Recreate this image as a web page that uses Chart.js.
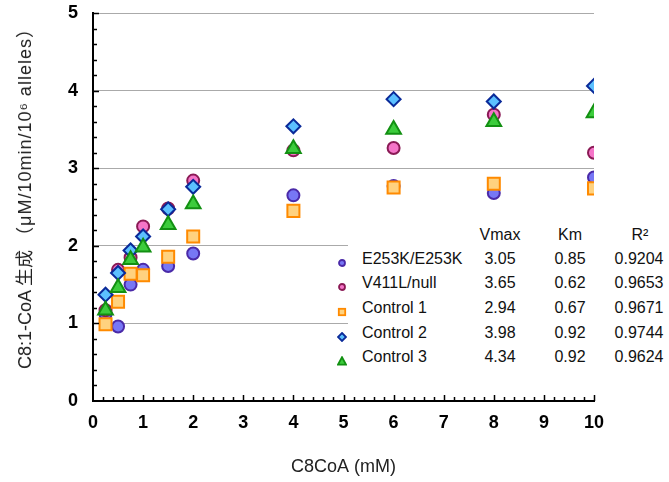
<!DOCTYPE html>
<html>
<head>
<meta charset="utf-8">
<script src="https://cdn.jsdelivr.net/npm/chart.js@4.4.1/dist/chart.umd.min.js"></script>
<style>
  body { margin: 0; background: #fff; }
  #wrap { position: relative; width: 669px; height: 482px; font-family: "Liberation Sans", Arial, "Noto Sans CJK JP", sans-serif; }
  #tabla { position: absolute; left: 348px; top: 218px; width: 321px; height: 160px; background: #fff; }
  #tituloY { position: absolute; left: 25px; top: 194px; transform: translate(-50%, -50%) rotate(-90deg); font-size: 18px; color: #222; white-space: nowrap; line-height: 1; }
  #tituloY .ancho { letter-spacing: 1px; }
  .t { position: absolute; font-size: 16px; color: #111; white-space: nowrap; line-height: 1; }
  .c { transform: translate(-50%, -50%); }
  .l { transform: translate(0, -50%); }
  .m { position: absolute; width: 10px; height: 10px; transform: translate(-50%, -50%); }
</style>
</head>
<body>
<div id="wrap">
  <canvas id="misPuntos" width="669" height="482"></canvas>
  <div id="tabla"></div>
  <div id="tituloY">C8:1-CoA 生成 <span class="ancho">（μM/10min/10⁶ alleles）</span></div>
</div>
<script>
const CONCENTRACION = [0.25, 0.5, 0.75, 1, 1.5, 2, 4, 6, 8, 10];
const E253K = [1.12, 0.96, 1.50, 1.69, 1.74, 1.90, 2.65, 2.77, 2.68, 2.88];
const V411L = [1.17, 1.69, 1.85, 2.25, 2.48, 2.84, 3.23, 3.26, 3.69, 3.20];
const CONTROL1 = [0.99, 1.28, 1.64, 1.62, 1.86, 2.12, 2.45, 2.75, 2.80, 2.74];
const CONTROL2 = [1.37, 1.65, 1.94, 2.12, 2.47, 2.76, 3.54, 3.89, 3.86, 4.06];
const CONTROL3 = [1.17, 1.46, 1.82, 1.98, 2.27, 2.54, 3.25, 3.50, 3.60, 3.71];

const NOMBRES = ["E253K/E253K", "V411L/null", "Control 1", "Control 2", "Control 3"];
const VMAX = ["3.05", "3.65", "2.94", "3.98", "4.34"];
const KM = ["0.85", "0.62", "0.67", "0.92", "0.92"];
const R2 = ["0.9204", "0.9653", "0.9671", "0.9744", "0.9624"];

const ESTILOS = [
    { forma: "circle", radio: 6, relleno: "#7777f5", borde: "#4a2aa8", orden: 5 },
    { forma: "circle", radio: 6, relleno: "#f575c8", borde: "#8a1a55", orden: 4 },
    { forma: "rect", radio: 8.5, relleno: "#ffd27f", borde: "#ff8a00", orden: 3 },
    { forma: "rectRot", radio: 7, relleno: "#5cc0ff", borde: "#0a2a99", orden: 2 },
    { forma: "triangle", radio: 8.5, relleno: "#3ccc3c", borde: "#129012", orden: 1 }
];

function puntos(serie) {
    return CONCENTRACION.map((x, i) => ({ x: x, y: serie[i] }));
}

// marcas pequeñas hacia adentro en los ejes
const marcas = {
    id: "marcas",
    afterDraw(chart) {
        const ctx = chart.ctx;
        const x = chart.scales.x;
        const y = chart.scales.y;
        const izq = chart.chartArea.left;
        const abajo = chart.chartArea.bottom;
        ctx.save();
        ctx.strokeStyle = "#000";
        ctx.lineWidth = 1.5;
        ctx.beginPath();
        for (let i = 1; i <= 25; i++) {
            const py = Math.round(y.getPixelForValue(i * 0.2)) + 0.5;
            const largo = i % 5 === 0 ? 6 : 4;
            ctx.moveTo(izq, py);
            ctx.lineTo(izq + largo, py);
        }
        for (let i = 1; i <= 50; i++) {
            const px = Math.round(x.getPixelForValue(i * 0.2)) + 0.5;
            const largo = i % 5 === 0 ? 6 : 4;
            ctx.moveTo(px, abajo);
            ctx.lineTo(px, abajo - largo);
        }
        ctx.stroke();
        ctx.restore();
    }
};

const SERIES = [E253K, V411L, CONTROL1, CONTROL2, CONTROL3];
const DATOS = {
    datasets: SERIES.map((s, i) => ({
        label: NOMBRES[i],
        data: puntos(s),
        pointStyle: ESTILOS[i].forma,
        pointRadius: ESTILOS[i].radio,
        pointBackgroundColor: ESTILOS[i].relleno,
        pointBorderColor: ESTILOS[i].borde,
        pointBorderWidth: 2,
        order: ESTILOS[i].orden
    }))
};

new Chart(document.getElementById("misPuntos"), {
    type: "scatter",
    data: DATOS,
    plugins: [marcas],
    options: {
        responsive: false,
        animation: false,
        layout: { padding: { top: 13, right: 75, left: 0, bottom: 0 } },
        plugins: { legend: { display: false }, tooltip: { enabled: false } },
        scales: {
            x: {
                type: "linear",
                min: 0,
                max: 10,
                afterFit: s => { s.height = 81; },
                ticks: { stepSize: 1, color: "#000", padding: 11, font: { family: "Liberation Sans", size: 18, weight: "bold" } },
                grid: { drawOnChartArea: false, drawTicks: false },
                border: { color: "#000", width: 2 },
                title: { display: true, text: "C8CoA (mM)", color: "#222", padding: { top: 0, bottom: 4 }, font: { family: "Liberation Sans", size: 18 } }
            },
            y: {
                min: 0,
                max: 5,
                afterFit: s => { s.width = 93; s.paddingTop = 0; s.paddingBottom = 0; },
                ticks: { stepSize: 1, color: "#000", padding: 15, font: { family: "Liberation Sans", size: 18, weight: "bold" } },
                grid: { drawTicks: false, color: c => c.tick.value === 0 ? "rgba(0,0,0,0)" : "#aaaaaa", lineWidth: 1 },
                border: { color: "#000", width: 2 }
            }
        }
    }
});

// tabla de la leyenda
const wrap = document.getElementById("wrap");
function texto(t, x, y, clase) {
    const el = document.createElement("span");
    el.className = "t " + clase;
    el.textContent = t;
    el.style.left = x + "px";
    el.style.top = y + "px";
    wrap.appendChild(el);
}
function marca(i, x, y) {
    const e = ESTILOS[i];
    let f = "";
    if (e.forma === "circle") f = '<circle cx="5" cy="5" r="3" />';
    if (e.forma === "rect") f = '<rect x="1.8" y="1.8" width="6.4" height="6.4" />';
    if (e.forma === "rectRot") f = '<polygon points="5,1 9,5 5,9 1,5" />';
    if (e.forma === "triangle") f = '<polygon points="5,1.2 9,8.6 1,8.6" />';
    const el = document.createElement("div");
    el.className = "m";
    el.style.left = x + "px";
    el.style.top = y + "px";
    el.innerHTML = '<svg width="10" height="10" fill="' + e.relleno + '" stroke="' + e.borde + '" stroke-width="1.8">' + f + '</svg>';
    wrap.appendChild(el);
}
texto("Vmax", 500, 235, "c");
texto("Km", 570, 235, "c");
texto("R²", 640, 235, "c");
const FILAS = [259, 283, 308, 333, 357];
NOMBRES.forEach((n, i) => {
    marca(i, 342, FILAS[i]);
    texto(n, 362, FILAS[i], "l");
    texto(VMAX[i], 500, FILAS[i], "c");
    texto(KM[i], 570, FILAS[i], "c");
    texto(R2[i], 639, FILAS[i], "c");
});
</script>
</body>
</html>
